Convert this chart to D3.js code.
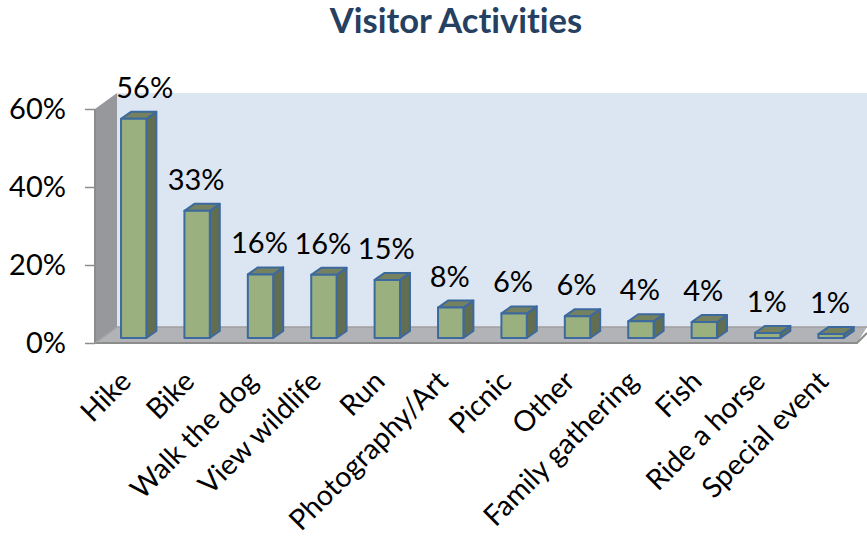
<!DOCTYPE html>
<html>
<head>
<meta charset="utf-8">
<script src="https://cdn.jsdelivr.net/npm/d3@7"></script>
<style>
body { margin: 0; background: #fff; }
text { font-family: Lato, sans-serif; fill: #000; font-variant-ligatures: none; }
</style>
</head>
<body>
<svg id="chart" width="867" height="539"></svg>
<script>
let categories = ['Hike', 'Bike', 'Walk the dog', 'View wildlife', 'Run', 'Photography/Art', 'Picnic', 'Other', 'Family gathering', 'Fish', 'Ride a horse', 'Special event']
let visitorShare = [56.2, 32.6, 16.3, 16.2, 14.9, 7.8, 6.3, 5.6, 4.3, 4.1, 1.3, 1.0]
let yTicks = [0, 20, 40, 60]

let data = categories.map((d, i) => {return {'name': d, 'value': visitorShare[i]}})

let svg = d3.select('#chart')

// Layout of the fake 3d box
let depthX = 22, depthY = 16
let barDepthX = 10, barDepthY = 7
let left = 95, floorY = 343, topY = 109

let xScale = d3.scaleBand(categories, [left + 7, left + 7 + 12 * 63.4]).paddingInner(0.6).paddingOuter(0.3)
let yScale = d3.scaleLinear([0, 60], [floorY, topY])

function poly(points, fill, stroke, width) {
    svg.append('polygon')
        .attr('points', points.map((p) => p.join(',')).join(' '))
        .attr('fill', fill)
        .attr('stroke', stroke || 'none')
        .attr('stroke-width', width || 0)
        .attr('stroke-linejoin', 'round')
}

// Back wall, side wall, floor
poly([[left + depthX, topY - depthY], [867, topY - depthY], [867, floorY - depthY], [left + depthX, floorY - depthY]], '#dce6f2')
poly([[left, topY], [left + depthX, topY - depthY], [left + depthX, floorY - depthY], [left, floorY]], '#96989c')
poly([[left, floorY], [left + depthX, floorY - depthY], [867, floorY - depthY], [857, floorY]], '#b1b3b7')

// Axis lines
svg.append('path').attr('d', `M${left},${topY}V${floorY}H857L867,${floorY - 10}`).attr('fill', 'none').attr('stroke', '#8c8c8c').attr('stroke-width', 2)
svg.append('path').attr('d', `M${left},${floorY}L${left + depthX},${floorY - depthY}H867`).attr('fill', 'none').attr('stroke', '#a0a0a0').attr('stroke-width', 1.5)

let yAxis = d3.axisLeft(yScale).tickValues(yTicks).tickSize(10).tickPadding(19).tickFormat((d) => d + '%')
let yAxisG = svg.append('g').attr('transform', `translate(${left},0)`).call(yAxis)
yAxisG.select('.domain').remove()
yAxisG.selectAll('line').attr('stroke', '#8c8c8c').attr('stroke-width', 1.5)
yAxisG.selectAll('text').attr('font-size', 29).attr('font-family', 'Lato, sans-serif').attr('fill', '#000')

// Bars sit a little behind the front edge of the floor
let barLift = 5
let edge = '#3d6a9e'
data.forEach((d, i) => {
    let x0 = xScale(d.name)
    let x1 = x0 + xScale.bandwidth()
    let y0 = yScale(d.value) - barLift
    let y1 = floorY - barLift
    poly([[x1, y0], [x1 + barDepthX, y0 - barDepthY], [x1 + barDepthX, y1 - barDepthY], [x1, y1]], '#616e52', edge, 2)
    poly([[x0, y0], [x0 + barDepthX, y0 - barDepthY], [x1 + barDepthX, y0 - barDepthY], [x1, y0]], '#76825f', edge, 2)
    poly([[x0, y0], [x1, y0], [x1, y1], [x0, y1]], '#9bb07f', edge, 2)

    // the first label was pulled right of its bar in the original
    let nudge = i == 0 ? 12 : 0
    svg.append('text')
        .attr('x', (x0 + x1) / 2 - 1 + nudge)
        .attr('y', y0 - 21)
        .attr('text-anchor', 'middle')
        .attr('font-size', 29)
        .text(Math.round(d.value) + '%')

    let lx = (x0 + x1) / 2 - 15
    svg.append('text')
        .attr('transform', `translate(${lx},369) rotate(-45)`)
        .attr('text-anchor', 'end')
        .attr('dy', '0.7em')
        .attr('font-size', 28.5)
        .text(d.name)
})

svg.append('text')
    .attr('x', 456)
    .attr('y', 33)
    .attr('text-anchor', 'middle')
    .attr('font-size', 34.5)
    .attr('font-weight', 700)
    .style('fill', '#254061')
    .text('Visitor Activities')
</script>
</body>
</html>
